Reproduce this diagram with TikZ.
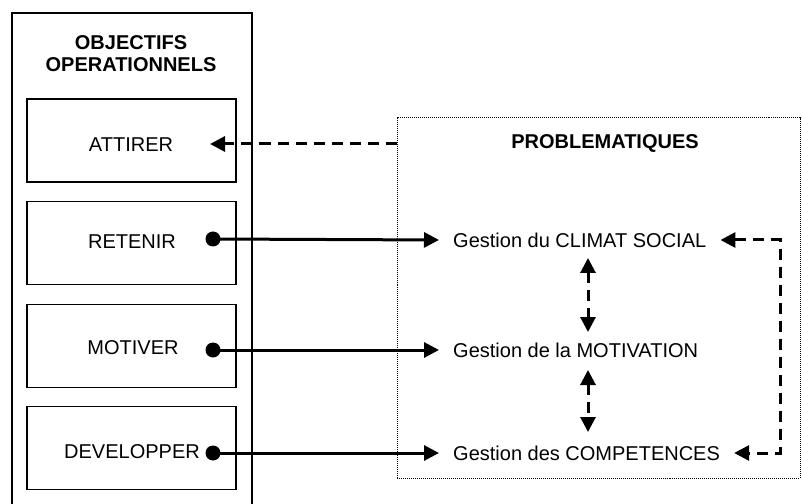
\documentclass[tikz,border=0pt]{standalone}
\usepackage{fontspec}
\setmainfont{Liberation Sans}
\usetikzlibrary{arrows.meta}
\tikzset{
  boxline/.style={draw, line width=1.8bp},
  inbox/.style={boxline, rectangle, minimum width=209bp, minimum height=83bp, inner sep=0pt},
  lbl/.style={font=\fontsize{20bp}{22bp}\selectfont, inner sep=0pt},
  gest/.style={font=\fontsize{20bp}{22bp}\selectfont, anchor=west, inner xsep=14bp, inner ysep=0pt},
  headtip/.tip={Triangle[length=15bp,width=15bp]},
  tip/.style={-headtip},
  solidarrow/.style={line width=3bp, tip},
  dasharrow/.style={line width=3bp, dash pattern=on 11bp off 7bp},
  dotbox/.style={draw, line width=1bp, densely dotted}
}
\begin{document}
\begin{tikzpicture}[x=1bp,y=-1bp]
\useasboundingbox (0,0) rectangle (802,504);
% left outer box
\draw[boxline] (12,510) -- (12,13) -- (252,13) -- (252,510);
\node[lbl, font=\fontsize{20bp}{22bp}\selectfont\bfseries, align=center] (title) at (131,54) {OBJECTIFS\\OPERATIONNELS};
% inner boxes
\node[inbox] (b1) at (131.5,140.5) {};
\node[inbox] (b2) at (131.5,243) {};
\node[inbox] (b3) at (131.5,346) {};
\node[inbox] (b4) at (131.5,448) {};
\node[lbl] (t1) at (131,145) {ATTIRER};
\node[lbl] (t2) at (132,242) {RETENIR};
\node[lbl] (t3) at (133,348) {MOTIVER};
\node[lbl] (t4) at (132,452) {DEVELOPPER};
% dots
\fill (213,239) circle (7.5bp) coordinate (d2);
\fill (213,350) circle (7.5bp) coordinate (d3);
\fill (213,453) circle (7.5bp) coordinate (d4);
% right box
\node[dotbox, rectangle, minimum width=403bp, minimum height=360bp, inner sep=0pt] (pb) at (598.5,298) {};
\node[lbl, font=\fontsize{20bp}{22bp}\selectfont\bfseries] (ptitle) at (605,143) {PROBLEMATIQUES};
% gestion labels
\node[gest] (g1) at (439,240) {Gestion du CLIMAT SOCIAL};
\node[gest] (g2) at (439,350) {Gestion de la MOTIVATION};
\node[gest] (g3) at (439,453) {Gestion des COMPETENCES};
% arrows
\coordinate (a1) at (210,144);
\draw[dasharrow, tip] (pb.west |- a1) -- (a1);
\draw[solidarrow] (d2) -- (g1.west);
\draw[solidarrow] (d3) -- (g2.west);
\draw[solidarrow] (d4) -- (g3.west);
\coordinate (c1) at (780,240);
\coordinate (c2) at (780,453);
\draw[dasharrow, headtip-headtip] (g1.east) -- (c1) -- (c2) -- (g3.east);
\coordinate (v1) at (588,258);
\coordinate (v2) at (588,332);
\coordinate (v3) at (588,370);
\coordinate (v4) at (588,432);
\draw[dasharrow, headtip-headtip] (v1) -- (v2);
\draw[dasharrow, headtip-headtip] (v3) -- (v4);
\end{tikzpicture}
\end{document}
